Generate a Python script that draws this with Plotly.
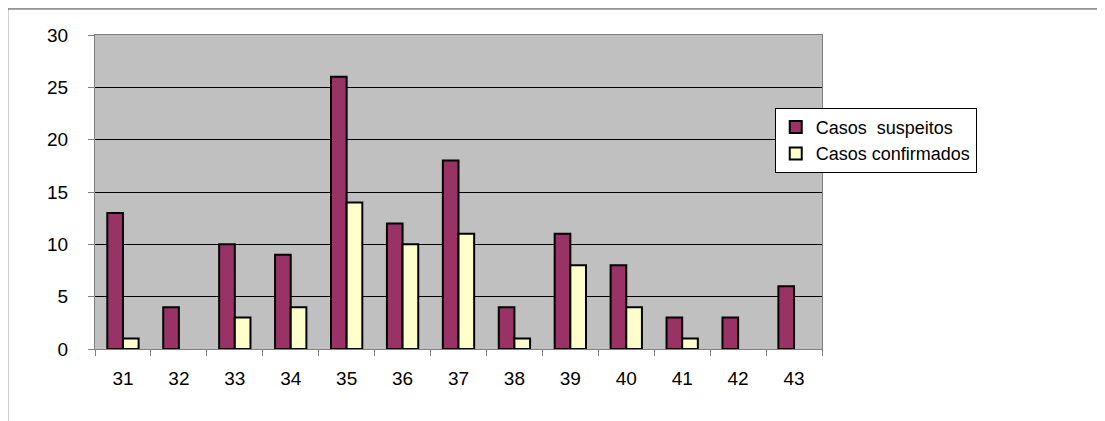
import plotly.graph_objects as go

semanas = ["31", "32", "33", "34", "35", "36", "37", "38", "39", "40", "41", "42", "43"]
suspeitos = [13, 4, 10, 9, 26, 12, 18, 4, 11, 8, 3, 3, 6]
confirmados = [1, 0, 3, 4, 14, 10, 11, 1, 8, 4, 1, 0, 0]

fig = go.Figure()
fig.add_trace(go.Bar(x=semanas, y=suspeitos, name="Casos  suspeitos",
                     marker=dict(color="#993366",
                                 line=dict(color="black", width=[2 if v else 0 for v in suspeitos]))))
fig.add_trace(go.Bar(x=semanas, y=confirmados, name="Casos confirmados",
                     marker=dict(color="#FFFFCC",
                                 line=dict(color="black", width=[2 if v else 0 for v in confirmados]))))

fig.update_layout(
    width=1105, height=421,
    margin=dict(l=87, r=291, t=27, b=80),
    paper_bgcolor="white", plot_bgcolor="#C0C0C0",
    barmode="group", bargap=0.44, bargroupgap=0,
    font=dict(family="Liberation Sans, Arial", size=19, color="black"),
    legend=dict(x=0.935, y=0.768, xanchor="left", yanchor="top",
                bgcolor="white", bordercolor="black", borderwidth=1,
                font=dict(size=18), tracegroupgap=2),
    showlegend=True,
)
fig.update_xaxes(showline=True, linecolor="#808080", linewidth=1, mirror=True,
                 ticks="outside", tickson="boundaries", ticklen=6, tickcolor="#808080",
                 showgrid=False, ticklabelstandoff=12)
fig.update_yaxes(range=[0, 30], dtick=5, showline=True, linecolor="#808080", linewidth=1,
                 mirror=True, ticks="outside", ticklen=6, tickcolor="#808080",
                 gridcolor="black", gridwidth=1, zeroline=False, ticklabelstandoff=16)

# moldura externa do gráfico
for x0, y0, x1, y1 in [(-0.12, 1.083, 1.4, 1.083), (-0.12, 1.083, -0.12, -0.3)]:
    fig.add_shape(type="line", xref="paper", yref="paper", x0=x0, y0=y0, x1=x1, y1=y1,
                  line=dict(color="#404040", width=1))

fig.write_html("out.html")
